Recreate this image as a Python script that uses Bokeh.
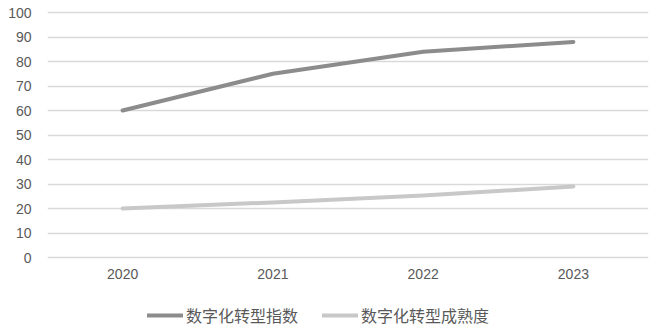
from bokeh.plotting import figure
from bokeh.models import Legend, LegendItem, Range1d, FixedTicker, ColumnDataSource
from bokeh.core.properties import value
from bokeh.embed import file_html
from bokeh.resources import INLINE

years = ["2020", "2021", "2022", "2023"]
index_vals = [60, 75, 84, 88]
maturity_vals = [20, 22.5, 25.3, 29]
series_names = ["数字化转型指数", "数字化转型成熟度"]
y_ticks = [0, 10, 20, 30, 40, 50, 60, 70, 80, 90, 100]

p = figure(width=654, height=327, x_range=years, y_range=Range1d(-28.57, 104.9),
           x_axis_location=None,
           output_backend="svg", toolbar_location=None,
           min_border_left=47, min_border_right=6, min_border_top=0, min_border_bottom=0)
p.outline_line_color = None
p.background_fill_color = "white"

r1 = p.line(years, index_vals, line_width=4, line_color="#8c8c8c", line_cap="round", line_join="round")
r2 = p.line(years, maturity_vals, line_width=4, line_color="#c8c8c8", line_cap="round", line_join="round")

# category labels under the zero line
src = ColumnDataSource(dict(x=years, y=[0] * len(years), t=years))
p.text(x="x", y="y", text="t", source=src, y_offset=16, text_align="center",
       text_baseline="middle", text_font=value("Liberation Sans"),
       text_font_size="14px", text_color="#595959")

p.yaxis.ticker = FixedTicker(ticks=y_ticks)
ax = p.yaxis[0]
ax.axis_line_color = None
ax.major_tick_line_color = None
ax.minor_tick_line_color = None
ax.major_tick_out = 0
ax.major_tick_in = 0
ax.major_label_text_color = "#595959"
ax.major_label_text_font = "Liberation Sans"
ax.major_label_text_font_size = "14px"
ax.major_label_standoff = 16
p.xgrid.grid_line_color = None
p.ygrid.ticker = FixedTicker(ticks=y_ticks)
p.ygrid.grid_line_color = "#d9d9d9"
p.ygrid.grid_line_width = 1.5

legend = Legend(items=[LegendItem(label=series_names[0], renderers=[r1]),
                       LegendItem(label=series_names[1], renderers=[r2])],
                orientation="horizontal", location=(100, 0),
                label_text_font="Noto Sans CJK SC", label_text_font_size="16px",
                label_text_color="#595959", glyph_width=36, spacing=24,
                label_standoff=3, label_height=16, glyph_height=16,
                border_line_color=None, background_fill_alpha=0,
                margin=0, padding=2)
p.add_layout(legend, "center")

open("out.html", "w").write(file_html(p, INLINE))
